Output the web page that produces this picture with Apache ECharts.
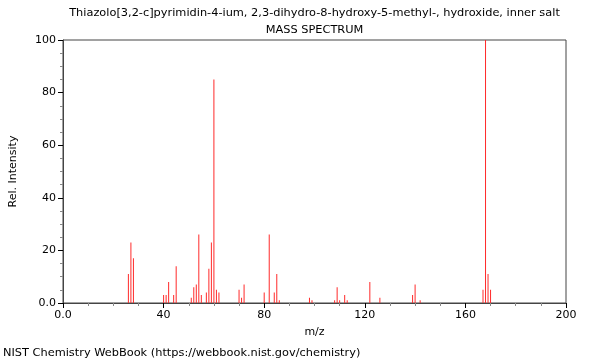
<!DOCTYPE html>
<html><head><meta charset="utf-8">
<script src="https://cdn.jsdelivr.net/npm/echarts@6/dist/echarts.min.js"></script>
<style>html,body{margin:0;padding:0;background:#fff}#c{width:600px;height:360px}</style>
</head><body><div id="c"></div>
<script>
const titleText = "Thiazolo[3,2-c]pyrimidin-4-ium, 2,3-dihydro-8-hydroxy-5-methyl-, hydroxide, inner salt";
const subtitleText = "MASS SPECTRUM";
const footerText = "NIST Chemistry WebBook (https://webbook.nist.gov/chemistry)";
const mzValues = [26,27,28,40,41,42,44,45,51,52,53,54,55,57,58,59,60,61,62,70,71,72,80,82,84,85,86,98,99,108,109,110,112,113,122,126,139,140,142,167,168,169,170];
const intensities = [11,23,17,3,3,8,3,14,2,6,7,26,3,4,13,23,85,5,4,5,2,7,4,26,4,11,1,2,1,1,6,1,3,1,8,2,3,7,1,5,100,11,5];
const xTicks = [0,40,80,120,160,200];
const yTicks = [0,20,40,60,80,100];

const chart = echarts.init(document.getElementById('c'), null, {renderer:'canvas'});
const font = 'DejaVu Sans';
const fmt = v => v === 0 ? '0.0' : String(v);
const ts = {fontFamily:font,fontSize:11.35,fontWeight:'normal',color:'#000'};
chart.setOption({
  animation:false,
  textStyle:{fontFamily:font},
  title:[
    {text:titleText, left:314.5, top:8, padding:0, textAlign:'center', textStyle:ts},
    {text:subtitleText, left:314.5, top:25, padding:0, textAlign:'center', textStyle:ts},
    {text:footerText, left:3, top:348, padding:0, textStyle:ts}
  ],
  grid:{left:62, right:34, top:40, bottom:57, show:true, borderColor:'#444', borderWidth:1, containLabel:false},
  xAxis:{type:'value', min:xTicks[0], max:xTicks[xTicks.length-1], interval:40,
    name:'m/z', nameLocation:'middle', nameGap:24, nameTextStyle:{fontFamily:font,fontSize:11,color:'#000'},
    axisLine:{show:true, onZero:false, lineStyle:{color:'#444'}},
    axisTick:{show:true, length:5, lineStyle:{color:'#000'}},
    minorTick:{show:true, splitNumber:4, length:3, lineStyle:{color:'#888'}},
    axisLabel:{formatter:fmt, fontFamily:font, fontSize:11, color:'#000', margin:7},
    splitLine:{show:false}},
  yAxis:{type:'value', min:yTicks[0], max:yTicks[yTicks.length-1], interval:20,
    name:'Rel. Intensity', nameLocation:'middle', nameGap:44, nameRotate:90, nameTextStyle:{fontFamily:font,fontSize:11,color:'#000'},
    axisLine:{show:true, lineStyle:{color:'#444'}},
    axisTick:{show:true, length:5, lineStyle:{color:'#000'}},
    minorTick:{show:true, splitNumber:4, length:3, lineStyle:{color:'#888'}},
    axisLabel:{formatter:fmt, fontFamily:font, fontSize:11, color:'#000', margin:7},
    splitLine:{show:false}},
  series:[{type:'bar', barWidth:1, data: mzValues.map((m,i)=>[m,intensities[i]]),
    itemStyle:{color:'#ff2a2a'}}]
});
</script></body></html>
